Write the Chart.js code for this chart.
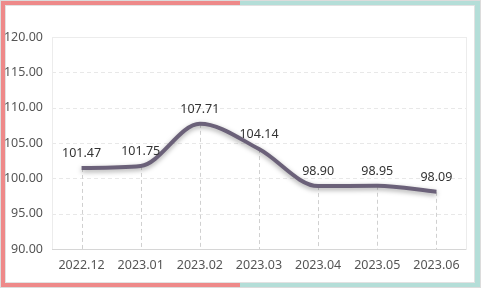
<!DOCTYPE html>
<html>
<head>
<meta charset="utf-8">
<script src="https://cdn.jsdelivr.net/npm/chart.js@4.4.1/dist/chart.umd.min.js"></script>
<style>
    html, body { margin: 0; padding: 0; background: #fff; }
    .frame {
        position: absolute; left: 0; top: 0;
        width: 481px; height: 288px; box-sizing: border-box;
        border: 1px solid #dcdcdc;
        background: linear-gradient(to right, #ee8989 50%, #b4ded8 50%);
        padding: 4px 5px 4px 4px;
    }
    .inner {
        width: 100%; height: 100%; box-sizing: border-box;
        background: #fff; border: 1px solid #e2e2e2;
    }
    #wrap { position: absolute; left: 0; top: 0; width: 481px; height: 289px; }
</style>
</head>
<body>
<div class="frame"><div class="inner"></div></div>
<div id="wrap"><canvas id="lineChart"></canvas></div>
<script>
// Chart data
const months = ['2022.12', '2023.01', '2023.02', '2023.03', '2023.04', '2023.05', '2023.06'];
const indexValues = [101.47, 101.75, 107.71, 104.14, 98.90, 98.95, 98.09];
const yTicks = [90, 95, 100, 105, 110, 115, 120];

Chart.defaults.font.family = "'Noto Sans', 'Open Sans', sans-serif";
Chart.defaults.font.size = 12.5;
Chart.defaults.color = '#555';

// frame, dashed grid and drop lines
const gridPlugin = {
    id: 'gridPlugin',
    beforeDatasetsDraw(chart) {
        const { ctx, chartArea: a, scales } = chart;
        ctx.save();
        ctx.lineWidth = 1;
        ctx.strokeStyle = '#e8e8e8';
        ctx.setLineDash([4, 3]);
        yTicks.forEach(v => {
            if (v === 90 || v === 120) return;
            const y = Math.round(scales.y.getPixelForValue(v)) + 0.5;
            ctx.beginPath();
            ctx.moveTo(a.left, y);
            ctx.lineTo(a.right, y);
            ctx.stroke();
        });
        // drop lines
        ctx.strokeStyle = '#d0d0d0';
        indexValues.forEach((v, i) => {
            const x = Math.round(scales.x.getPixelForValue(i)) + 0.5;
            const y = scales.y.getPixelForValue(v);
            ctx.beginPath();
            ctx.moveTo(x, y);
            ctx.lineTo(x, a.bottom);
            ctx.stroke();
        });
        ctx.setLineDash([]);
        ctx.strokeStyle = '#ececec';
        ctx.strokeRect(Math.round(a.left) + 0.5, Math.round(a.top) + 0.5,
            Math.round(a.right - a.left), Math.round(a.bottom - a.top));
        ctx.strokeStyle = '#d6d6d6';
        const yb = Math.round(a.bottom) + 0.5;
        ctx.beginPath();
        ctx.moveTo(a.left, yb);
        ctx.lineTo(a.right, yb);
        ctx.stroke();
        ctx.restore();
    }
};

// shadow under the line
const shadowPlugin = {
    id: 'shadowPlugin',
    beforeDatasetDraw(chart) {
        const ctx = chart.ctx;
        ctx.save();
        ctx.shadowColor = 'rgba(0, 0, 0, 0.35)';
        ctx.shadowBlur = 5;
        ctx.shadowOffsetY = 2;
    },
    afterDatasetDraw(chart) {
        chart.ctx.restore();
    }
};

// value labels above points
const labelPlugin = {
    id: 'labelPlugin',
    afterDatasetsDraw(chart) {
        const { ctx, scales } = chart;
        ctx.save();
        ctx.font = "12.5px 'Noto Sans', sans-serif";
        ctx.fillStyle = '#333';
        ctx.textAlign = 'center';
        ctx.textBaseline = 'bottom';
        indexValues.forEach((v, i) => {
            const x = scales.x.getPixelForValue(i);
            const y = scales.y.getPixelForValue(v);
            ctx.fillText(v.toFixed(2), x, y - 8);
        });
        ctx.restore();
    }
};

new Chart(document.getElementById('lineChart'), {
    type: 'line',
    data: {
        labels: months,
        datasets: [{
            data: indexValues,
            borderColor: '#6b6179',
            borderWidth: 4,
            cubicInterpolationMode: 'monotone',
            pointRadius: 0,
            fill: false
        }]
    },
    options: {
        responsive: true,
        maintainAspectRatio: false,
        animation: false,
        layout: { padding: { top: 37, right: 15, bottom: 0, left: 0 } },
        plugins: {
            legend: { display: false },
            tooltip: { enabled: false }
        },
        scales: {
            x: {
                offset: true,
                grid: { display: false, drawTicks: false },
                border: { display: false },
                ticks: { padding: 9, color: '#555', maxRotation: 0 },
                afterFit(scale) { scale.height = 40; }
            },
            y: {
                min: 90,
                max: 120,
                grid: { display: false, drawTicks: false },
                border: { display: false },
                ticks: {
                    stepSize: 5,
                    padding: 9,
                    color: '#555',
                    callback: v => v.toFixed(2)
                },
                afterFit(scale) { scale.width = 52; }
            }
        }
    },
    plugins: [gridPlugin, shadowPlugin, labelPlugin]
});
</script>
</body>
</html>
